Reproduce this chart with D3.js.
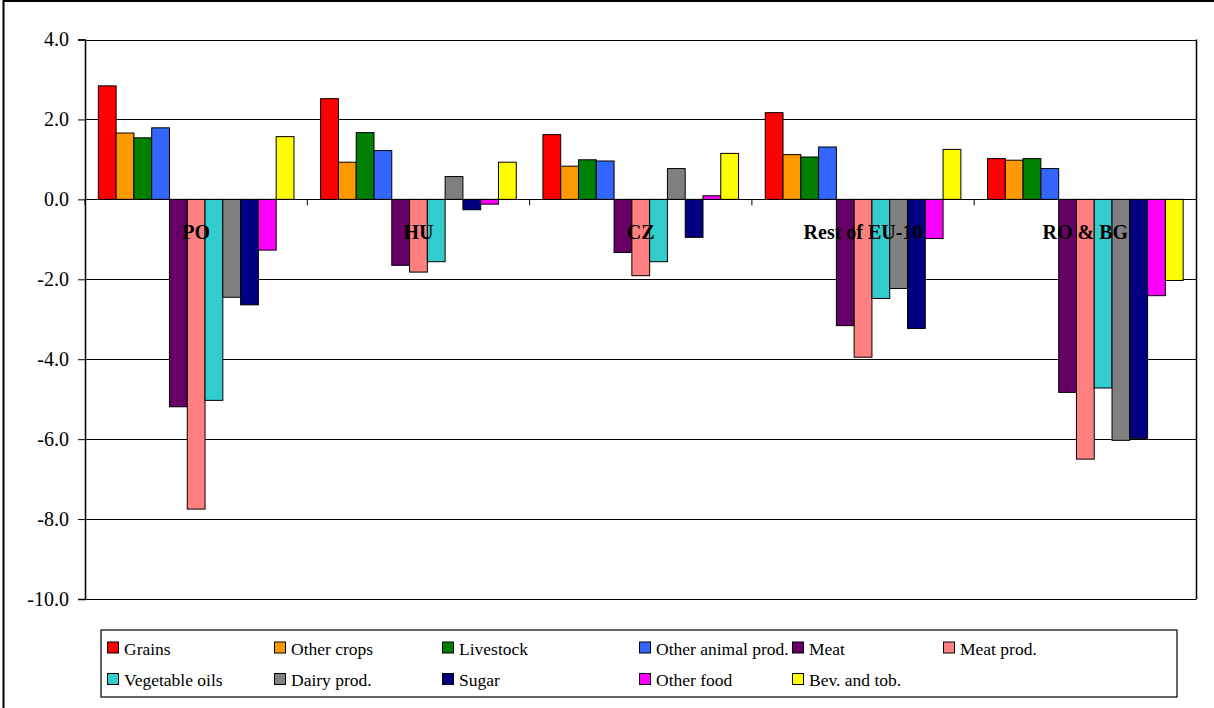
<!DOCTYPE html>
<html>
<head>
<meta charset="utf-8">
<script src="https://cdn.jsdelivr.net/npm/d3@7"></script>
<style>
  html, body { margin: 0; padding: 0; background: #fff; }
  svg { display: block; }
  text { font-family: "Liberation Serif", "Times New Roman", serif; fill: #000; }
</style>
</head>
<body>
<svg id="chart" width="1214" height="708"></svg>
<script>
// ---- data ----
const regions = ["PO", "HU", "CZ", "Rest of EU-10", "RO & BG"];
const sectors = ["Grains", "Other crops", "Livestock", "Other animal prod.", "Meat", "Meat prod.",
                 "Vegetable oils", "Dairy prod.", "Sugar", "Other food", "Bev. and tob."];
const colors = ["#FF0000", "#FF9900", "#008000", "#3366FF", "#660066", "#FF8080",
                "#33CCCC", "#808080", "#000080", "#FF00FF", "#FFFF00"];
// values per sector, ordered by region (PO, HU, CZ, Rest of EU-10, RO & BG)
const grains        = [2.84, 2.52, 1.62, 2.17, 1.02];
const otherCrops    = [1.66, 0.93, 0.83, 1.12, 0.98];
const livestock     = [1.54, 1.67, 0.99, 1.06, 1.02];
const otherAnimal   = [1.79, 1.22, 0.96, 1.31, 0.77];
const meat          = [-5.19, -1.65, -1.33, -3.16, -4.83];
const meatProd      = [-7.75, -1.82, -1.91, -3.95, -6.50];
const vegOils       = [-5.03, -1.56, -1.56, -2.48, -4.72];
const dairy         = [-2.45, 0.57, 0.77, -2.23, -6.03];
const sugar         = [-2.64, -0.26, -0.95, -3.23, -5.98];
const otherFood     = [-1.27, -0.12, 0.09, -0.98, -2.41];
const bevTob        = [1.57, 0.93, 1.15, 1.25, -2.03];
const yTicks = [4, 2, 0, -2, -4, -6, -8, -10];

const series = [grains, otherCrops, livestock, otherAnimal, meat, meatProd,
                vegOils, dairy, sugar, otherFood, bevTob];

// ---- layout ----
const svg = d3.select("#chart");
const plot = { left: 85, right: 1196.5, top: 39.5, bottom: 599 };

svg.append("rect").attr("x", 0).attr("y", 0).attr("width", 1214).attr("height", 708).attr("fill", "#fff");
// outer chart border (left and top visible)
svg.append("rect").attr("x", 3.5).attr("y", 1).attr("width", 1240).attr("height", 740)
   .attr("fill", "none").attr("stroke", "#000").attr("stroke-width", 2);

const y = d3.scaleLinear().domain([-10, 4]).range([plot.bottom, plot.top]);
const x0 = d3.scaleBand().domain(regions).range([plot.left, plot.right]).padding(0);
const x1 = d3.scaleBand().domain(sectors).range([0, x0.bandwidth()]).paddingInner(0).paddingOuter(0.75);

// gridlines
svg.append("g").selectAll("line").data(yTicks).join("line")
  .attr("x1", plot.left).attr("x2", plot.right)
  .attr("y1", d => Math.round(y(d)) + 0.5).attr("y2", d => Math.round(y(d)) + 0.5)
  .attr("stroke", "#000").attr("stroke-width", 1);

// right border of plot area
svg.append("line").attr("x1", plot.right).attr("x2", plot.right)
  .attr("y1", plot.top).attr("y2", plot.bottom).attr("stroke", "#000").attr("stroke-width", 1.5);

// bars
const bars = [];
regions.forEach((r, ri) => {
  sectors.forEach((s, si) => {
    bars.push({ region: r, sector: s, value: series[si][ri], color: colors[si] });
  });
});
svg.append("g").selectAll("rect").data(bars).join("rect")
  .attr("x", d => x0(d.region) + x1(d.sector))
  .attr("width", x1.bandwidth())
  .attr("y", d => y(Math.max(0, d.value)))
  .attr("height", d => Math.abs(y(d.value) - y(0)))
  .attr("fill", d => d.color)
  .attr("stroke", "#000").attr("stroke-width", 1);

// zero axis line
svg.append("line").attr("x1", plot.left).attr("x2", plot.right)
  .attr("y1", Math.round(y(0)) + 0.5).attr("y2", Math.round(y(0)) + 0.5)
  .attr("stroke", "#000").attr("stroke-width", 1.2);

// x-axis tick marks at category boundaries
const bounds = regions.map(r => x0(r)).concat([plot.right]);
svg.append("g").selectAll("line").data(bounds).join("line")
  .attr("x1", d => d).attr("x2", d => d)
  .attr("y1", y(0)).attr("y2", y(0) + 6)
  .attr("stroke", "#000").attr("stroke-width", 1);

// y axis
const fmt = d3.format(".1f");
const yAxis = d3.axisLeft(y).tickValues(yTicks)
  .tickFormat(d => fmt(d).replace("\u2212", "-")).tickSize(7).tickPadding(9);
const gy = svg.append("g").attr("transform", `translate(${plot.left},0)`).call(yAxis);
gy.select(".domain").attr("stroke", "#000").attr("stroke-width", 1.5);
gy.selectAll(".tick line").attr("stroke", "#000");
gy.selectAll(".tick text").attr("font-family", "Liberation Serif, serif").attr("font-size", 20).attr("fill", "#000");

// category labels
svg.append("g").selectAll("text").data(regions).join("text")
  .attr("x", d => x0(d) + x0.bandwidth() / 2)
  .attr("y", y(0) + 40)
  .attr("text-anchor", "middle")
  .attr("font-weight", "bold")
  .attr("font-size", 20)
  .text(d => d);

// legend
const legendBox = { x: 101, y: 630, w: 1076, h: 67 };
svg.append("rect").attr("x", legendBox.x).attr("y", legendBox.y)
  .attr("width", legendBox.w).attr("height", legendBox.h)
  .attr("fill", "#fff").attr("stroke", "#000").attr("stroke-width", 1.2);
const colX = [107, 274, 442, 639, 792, 943];
const rowY = [647.5, 679];
const legendItems = sectors.map((s, i) => ({ name: s, color: colors[i], col: i % 6, row: Math.floor(i / 6) }));
const lg = svg.append("g").selectAll("g").data(legendItems).join("g")
  .attr("transform", d => `translate(${colX[d.col]},${rowY[d.row]})`);
lg.append("rect").attr("x", 0.5).attr("y", -5.5).attr("width", 11).attr("height", 11)
  .attr("fill", d => d.color).attr("stroke", "#000").attr("stroke-width", 1);
lg.append("text").attr("x", 17).attr("y", 7).attr("font-size", 17.5).text(d => d.name);
</script>
</body>
</html>
